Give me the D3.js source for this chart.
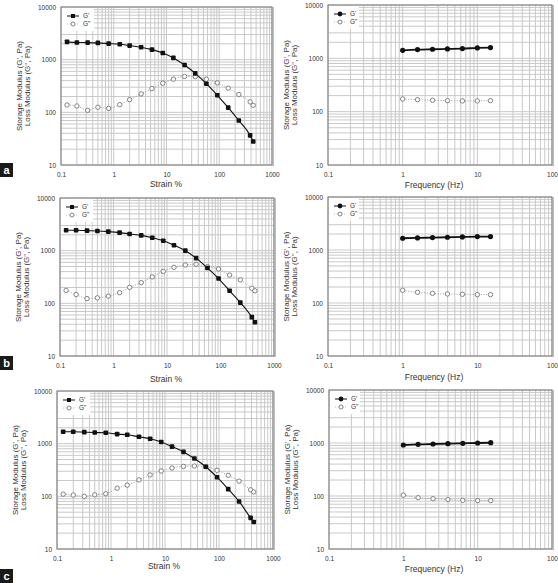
<!DOCTYPE html>
<html><head><meta charset="utf-8">
<script src="https://cdn.jsdelivr.net/npm/d3@7"></script>
<style>
body{margin:0;background:#fff;}
text{font-family:"Liberation Sans",Arial,sans-serif;fill:#333;}
</style></head>
<body><svg id="c" width="558" height="583"></svg>
<script>
// ---- data ----
const strain = [0.13, 0.2, 0.32, 0.5, 0.8, 1.3, 2.0, 3.3, 5.3, 8.5, 13.5, 22, 35, 57, 92, 148, 235, 385, 440];
const freq = [1, 1.58, 2.51, 3.98, 6.31, 10, 15];

const aStrainGp  = [2180, 2120, 2110, 2080, 2020, 1960, 1850, 1720, 1550, 1340, 1080, 790, 550, 350, 211, 123, 70, 36.5, 28];
const aStrainGpp = [138, 132, 109, 125, 119, 140, 174, 224, 283, 358, 427, 480, 474, 427, 363, 287, 218, 158, 136];
const bStrainGp  = [2440, 2440, 2400, 2370, 2300, 2200, 2070, 1950, 1760, 1540, 1270, 1000, 721, 469, 296, 173, 103, 54.6, 43.6];
const bStrainGpp = [176, 147, 123, 127, 137, 159, 201, 247, 318, 404, 482, 536, 552, 498, 449, 344, 279, 193, 173];
const cStrainGp  = [1680, 1680, 1655, 1630, 1610, 1520, 1475, 1350, 1240, 1075, 878, 698, 523, 365, 231, 137, 80, 39, 32.5];
const cStrainGpp = [110, 106, 100, 107, 112, 143, 163, 205, 255, 303, 345, 370, 376, 365, 312, 251, 194, 133, 121];

const aFreqGp  = [1416, 1458, 1480, 1500, 1522, 1567, 1590];
const aFreqGpp = [173, 168, 163.5, 161, 159, 159, 161];
const bFreqGp  = [1667, 1690, 1715, 1740, 1765, 1790, 1790];
const bFreqGpp = [174, 159, 152, 148, 146, 144, 144];
const cFreqGp  = [917, 944, 958, 972, 986, 1000, 1014];
const cFreqGpp = [104, 93, 89, 85.4, 83, 82, 82];

const yTicks = [10, 100, 1000, 10000];
const strainTicks = [0.1, 1, 10, 100, 1000];
const freqTicks = [0.1, 1, 10, 100];
const seriesNames = ["G'", "G\""];
const panelLetters = ["a", "b", "c"];

// ---- layout ----
const svg = d3.select("#c");
const panels = [
  {box:[61,272,7,165],  x:strain, gp:aStrainGp, gpp:aStrainGpp, xd:[0.1,1000], xt:strainTicks, title:"Strain %", kind:"strain", tx:166, ty:187},
  {box:[328,552,5,165], x:freq, gp:aFreqGp, gpp:aFreqGpp, xd:[0.1,100], xt:freqTicks, title:"Frequency (Hz)", kind:"freq", tx:434, ty:188},
  {box:[60,274,198,356],x:strain, gp:bStrainGp, gpp:bStrainGpp, xd:[0.1,1000], xt:strainTicks, title:"Strain %", kind:"strain", tx:166, ty:382},
  {box:[328,552,197,356],x:freq, gp:bFreqGp, gpp:bFreqGpp, xd:[0.1,100], xt:freqTicks, title:"Frequency (Hz)", kind:"freq", tx:434, ty:380},
  {box:[57,273,391,549],x:strain, gp:cStrainGp, gpp:cStrainGpp, xd:[0.1,1000], xt:strainTicks, title:"Strain %", kind:"strain", tx:164, ty:569},
  {box:[329,552,390,549],x:freq, gp:cFreqGp, gpp:cFreqGpp, xd:[0.1,100], xt:freqTicks, title:"Frequency (Hz)", kind:"freq", tx:434, ty:572}
];

function minorTicks(d){
  const out=[];
  for(let e=Math.round(Math.log10(d[0])); e<Math.round(Math.log10(d[1])); e++){
    for(let m=1;m<10;m++){ out.push(m*Math.pow(10,e)); }
  }
  out.push(d[1]);
  return out;
}

panels.forEach((p,i)=>{
  const [x0,x1,y0,y1]=p.box;
  const xs=d3.scaleLog().domain(p.xd).range([x0,x1]);
  const ys=d3.scaleLog().domain([10,10000]).range([y1,y0]);
  const g=svg.append("g");
  // grid
  g.selectAll(".gx").data(minorTicks(p.xd)).enter().append("line")
    .attr("x1",d=>xs(d)).attr("x2",d=>xs(d)).attr("y1",y0).attr("y2",y1)
    .attr("stroke","#c9c9c9").attr("stroke-width",1);
  g.selectAll(".gy").data(minorTicks([10,10000])).enter().append("line")
    .attr("y1",d=>ys(d)).attr("y2",d=>ys(d)).attr("x1",x0).attr("x2",x1)
    .attr("stroke","#c9c9c9").attr("stroke-width",1);
  // frame
  g.append("rect").attr("x",x0).attr("y",y0).attr("width",x1-x0).attr("height",y1-y0)
    .attr("fill","none").attr("stroke","#777").attr("stroke-width",1);
  g.append("line").attr("x1",x1+1).attr("x2",x1+1).attr("y1",y0).attr("y2",y1+1).attr("stroke","#aaa").attr("stroke-width",1.5);
  // axes
  const xa=d3.axisBottom(xs).tickValues(p.xt).tickFormat(d=>String(d)).tickSize(0).tickPadding(7);
  const xg=g.append("g").attr("transform",`translate(0,${y1})`).call(xa);
  xg.select(".domain").remove();
  xg.selectAll("text").attr("font-size",6.5).attr("fill","#444");
  const ya=d3.axisLeft(ys).tickValues(yTicks).tickFormat(d=>String(d)).tickSize(0).tickPadding(5);
  const yg=g.append("g").attr("transform",`translate(${x0},0)`).call(ya);
  yg.select(".domain").remove();
  yg.selectAll("text").attr("font-size",6.5).attr("fill","#444");
  // axis titles
  g.append("text").attr("x",p.tx).attr("y",p.ty).attr("text-anchor","middle").attr("font-size",8.5).attr("fill","#444").text(p.title);
  const cy=(y0+y1)/2, cx=x0-39;
  g.append("text").attr("transform",`translate(${cx},${cy}) rotate(-90)`).attr("text-anchor","middle").attr("font-size",8).attr("fill","#444").text("Storage Modulus (G', Pa)");
  g.append("text").attr("transform",`translate(${cx+8},${cy}) rotate(-90)`).attr("text-anchor","middle").attr("font-size",8).attr("fill","#444").text("Loss Modulus (G'', Pa)");

  const ptsP=p.x.map((x,k)=>[x,p.gp[k]]);
  const ptsPP=p.x.map((x,k)=>[x,p.gpp[k]]);
  const line=d3.line().x(d=>xs(d[0])).y(d=>ys(d[1])).curve(d3.curveMonotoneX);
  const isF=p.kind==="freq";
  // G'' dotted line
  g.append("path").datum(ptsPP).attr("d",line).attr("fill","none").attr("stroke","#999").attr("stroke-width",0.8).attr("stroke-dasharray","1.2,1.5");
  // G' line
  g.append("path").datum(ptsP).attr("d",line).attr("fill","none").attr("stroke","#111").attr("stroke-width",isF?1.8:1.1);
  // markers
  g.selectAll(".opp").data(ptsPP).enter().append("circle").attr("cx",d=>xs(d[0])).attr("cy",d=>ys(d[1])).attr("r",2.2)
    .attr("fill","#fff").attr("stroke","#666").attr("stroke-width",0.8);
  if(isF){
    g.selectAll(".op").data(ptsP).enter().append("circle").attr("cx",d=>xs(d[0])).attr("cy",d=>ys(d[1])).attr("r",2.6).attr("fill","#111");
  } else {
    g.selectAll(".op").data(ptsP).enter().append("rect").attr("x",d=>xs(d[0])-2.3).attr("y",d=>ys(d[1])-2.3)
      .attr("width",4.6).attr("height",4.6).attr("rx",0.8).attr("fill","#111");
  }
  // legend
  const lx=x0+1, ly=y0+1;
  g.append("rect").attr("x",lx).attr("y",ly).attr("width",isF?30:32).attr("height",23).attr("fill","#fff");
  const r1=ly+8, r2=ly+16;
  g.append("line").attr("x1",lx+5).attr("x2",lx+17).attr("y1",r1).attr("y2",r1).attr("stroke","#111").attr("stroke-width",1);
  if(isF) g.append("circle").attr("cx",lx+11).attr("cy",r1).attr("r",2.4).attr("fill","#111");
  else g.append("rect").attr("x",lx+9).attr("y",r1-2).attr("width",4).attr("height",4).attr("fill","#111");
  g.append("line").attr("x1",lx+5).attr("x2",lx+17).attr("y1",r2).attr("y2",r2).attr("stroke","#aaa").attr("stroke-width",0.8).attr("stroke-dasharray","1,1.5");
  g.append("circle").attr("cx",lx+11).attr("cy",r2).attr("r",2).attr("fill","#fff").attr("stroke","#666").attr("stroke-width",0.8);
  g.append("text").attr("x",lx+21).attr("y",r1+2.3).attr("font-size",6.5).attr("fill","#555").text(seriesNames[0]);
  g.append("text").attr("x",lx+21).attr("y",r2+2.3).attr("font-size",6.5).attr("fill","#555").text(seriesNames[1]);
});

// panel letters
const letterY=[163,356,569];
panelLetters.forEach((L,i)=>{
  svg.append("rect").attr("x",0).attr("y",letterY[i]).attr("width",13).attr("height",14).attr("fill","#1a1a1a");
  svg.append("text").attr("x",6.5).attr("y",letterY[i]+11).attr("text-anchor","middle").attr("font-size",11).attr("font-weight","bold").style("fill","#fff").text(L);
});
</script></body></html>
